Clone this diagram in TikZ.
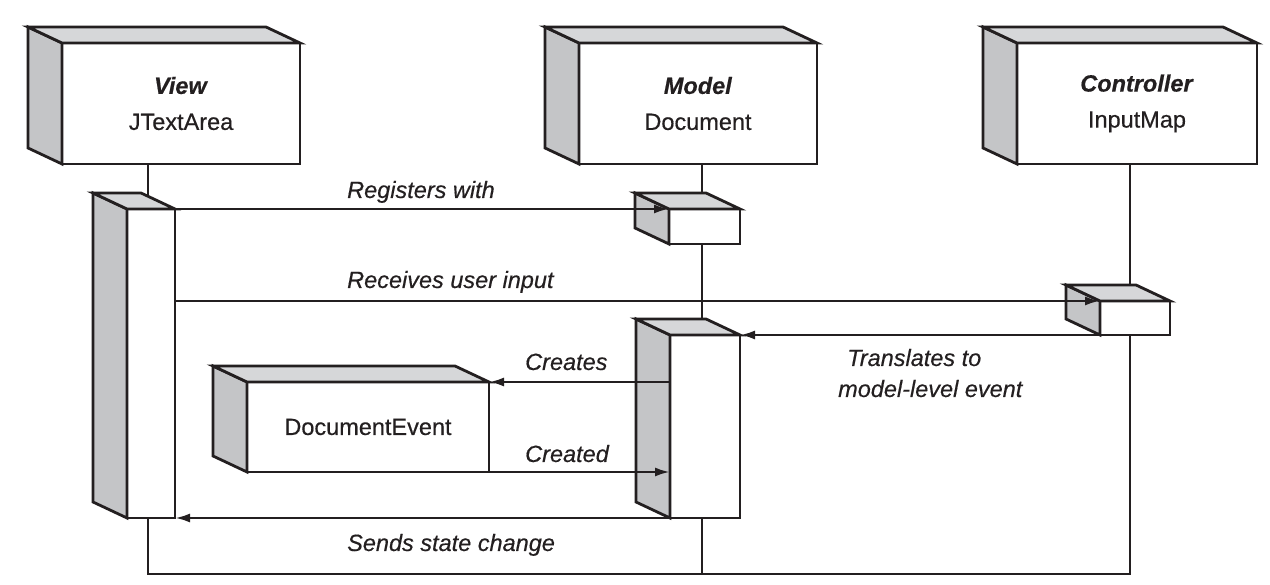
\documentclass[tikz,border=0pt]{standalone}
\usepackage{fontspec}
\setmainfont{Liberation Sans}[FakeBold=0.4]
\usetikzlibrary{arrows.meta,backgrounds}
\definecolor{ink}{HTML}{231F20}
\definecolor{sidegray}{HTML}{C4C5C7}
\definecolor{topgray}{HTML}{D6D7D9}
\tikzset{
  front/.style={draw=ink, line width=2.8pt, fill=white, rectangle, inner sep=0pt, outer sep=0pt,
    text=ink, align=center, font=\fontsize{23.5}{36}\selectfont},
  faceline/.style={draw=ink, line width=2.8pt, line join=miter},
  lab/.style={font=\fontsize{23.5}{28}\selectfont\itshape, inner sep=0pt, text=ink},
  msg/.style={draw=ink, line width=2.5pt, -{Latex[length=15pt,width=9pt]}},
  life/.style={draw=ink, line width=2.8pt},
}
\newcommand\cubefaces[1]{%
  \filldraw[faceline, fill=sidegray] (#1.north west) -- ++(-34,16) -- ([shift={(-34,16)}]#1.south west) -- (#1.south west) -- cycle;
  \filldraw[faceline, fill=topgray] (#1.north west) -- ++(-34,16) -- ([shift={(-34,16)}]#1.north east) -- (#1.north east) -- cycle;
  \draw[faceline] (#1.north west) rectangle (#1.south east);
}
\begin{document}
\begin{tikzpicture}[x=1pt,y=1pt]
\useasboundingbox (0,0) rectangle (1270,585);

% top boxes
\node[front, minimum width=238pt, minimum height=121pt] (viewtop) at (181,481.5)
  {\textbf{\textit{View}}\\JTextArea};
\cubefaces{viewtop}
\node[front, minimum width=238pt, minimum height=121pt] (modeltop) at (698,481.5)
  {\textbf{\textit{Model}}\\Document};
\cubefaces{modeltop}
\node[front, minimum width=240pt, minimum height=121pt] (ctrltop) at (1137,481.5)
  {\textbf{\textit{Controller}}\\InputMap};
\cubefaces{ctrltop}

% activation boxes
\node[front, minimum width=48pt, minimum height=309pt] (viewact) at (151,221.5) {};
\cubefaces{viewact}
\node[front, minimum width=71pt, minimum height=35pt] (modelsmall) at (704.5,358.5) {};
\cubefaces{modelsmall}
\node[front, minimum width=70pt, minimum height=34pt] (ctrlsmall) at (1135,267) {};
\cubefaces{ctrlsmall}
\node[front, minimum width=70pt, minimum height=183pt] (modelact) at (705,158.5) {};
\cubefaces{modelact}
\node[front, minimum width=242pt, minimum height=90pt] (docevent) at (368,158) {DocumentEvent};
\cubefaces{docevent}

% lifelines
\coordinate (vx) at (148,11);
\coordinate (mx) at (702,11);
\coordinate (cx) at (1130,11);
\begin{pgfonlayer}{background}
  \draw[life] (viewtop.south -| vx) -- (vx) -- (cx) -- (ctrltop.south -| cx);
  \draw[life] (modeltop.south -| mx) -- (mx);
\end{pgfonlayer}

% messages
\draw[msg] (viewact.north east) -- (modelsmall.north west);
\draw[msg] (viewact.east |- ctrlsmall.north west) -- (ctrlsmall.north west);
\draw[msg] (ctrlsmall.south west) -- (modelact.north east);
\draw[msg] (modelact.west |- docevent.north east) -- (docevent.north east);
\draw[msg] (docevent.south east) -- (modelact.west |- docevent.south east);
\draw[msg] (modelact.south west) -- (viewact.south east);

% labels
\node[lab, anchor=base west] (lreg) at (347,387) {Registers with};
\node[lab, anchor=base west] (lrec) at (347,297) {Receives user input};
\node[lab, anchor=base west] (ltr1) at (847,219) {Translates to};
\node[lab, anchor=base west] (ltr2) at (838,188) {model-level event};
\node[lab, anchor=base west] (lcre) at (525,215) {Creates};
\node[lab, anchor=base west] (lcrd) at (525,123) {Created};
\node[lab, anchor=base west] (lsnd) at (347,34) {Sends state change};
\end{tikzpicture}
\end{document}
